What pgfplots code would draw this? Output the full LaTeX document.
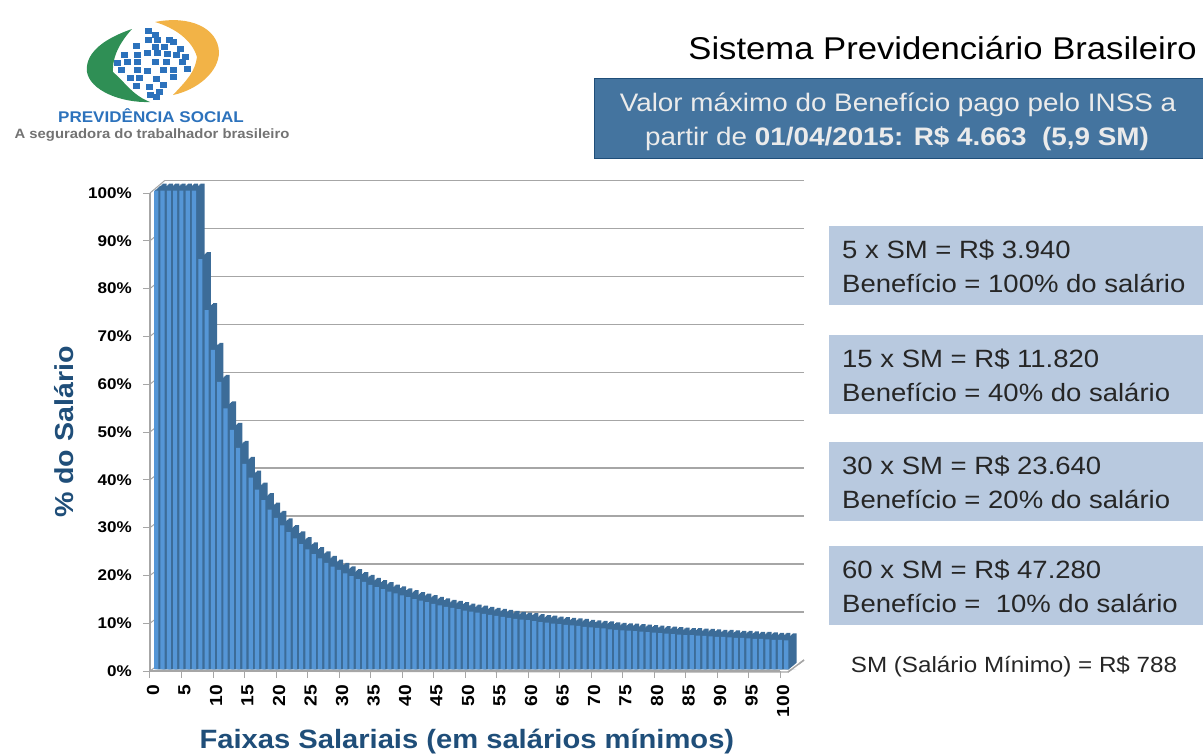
\documentclass[border=0pt]{standalone}
\usepackage{pgfplots}
\usepackage{pgfplotstable}
\usepackage{fontspec}
\pgfplotsset{compat=1.18}
\setmainfont[FakeStretch=1.1]{Liberation Sans}
\definecolor{barfront}{HTML}{5596D6}
\definecolor{barside}{HTML}{3C6C98}
\definecolor{gridgray}{HTML}{A6A6A6}
\definecolor{navy}{HTML}{1F4E79}
\definecolor{boxdark}{HTML}{44749F}
\definecolor{boxlight}{HTML}{B8C9DF}
\definecolor{logogreen}{HTML}{2F8F55}
\definecolor{logoorange}{HTML}{F2B347}
\definecolor{logoblue}{HTML}{2C72BC}
\pgfplotstableread{
c v
0 100
1 100
2 100
3 100
4 100
5 100
6 100
7 85.7
8 75.0
9 66.7
10 60.0
11 54.5
12 50.0
13 46.2
14 42.9
15 40.0
16 37.5
17 35.3
18 33.3
19 31.6
20 30.0
21 28.6
22 27.3
23 26.1
24 25.0
25 24.0
26 23.1
27 22.2
28 21.4
29 20.7
30 20.0
31 19.4
32 18.8
33 18.2
34 17.6
35 17.1
36 16.7
37 16.2
38 15.8
39 15.4
40 15.0
41 14.6
42 14.3
43 14.0
44 13.6
45 13.3
46 13.0
47 12.8
48 12.5
49 12.2
50 12.0
51 11.8
52 11.5
53 11.3
54 11.1
55 10.9
56 10.7
57 10.5
58 10.3
59 10.2
60 10.0
61 9.8
62 9.7
63 9.5
64 9.4
65 9.2
66 9.1
67 9.0
68 8.8
69 8.7
70 8.6
71 8.5
72 8.3
73 8.2
74 8.1
75 8.0
76 7.9
77 7.8
78 7.7
79 7.6
80 7.5
81 7.4
82 7.3
83 7.2
84 7.1
85 7.1
86 7.0
87 6.9
88 6.8
89 6.7
90 6.7
91 6.6
92 6.5
93 6.5
94 6.4
95 6.3
96 6.3
97 6.2
98 6.1
99 6.1
100 6.0
}\datatable
\newcommand{\px}[1]{\fontsize{#1}{#1}\selectfont}
\begin{document}
\begin{tikzpicture}[x=1pt,y=-1pt,every node/.style={inner sep=0pt}]
\path[use as bounding box] (0,0) rectangle (1203,753);
% logo
\fill[logogreen] (132,29) .. controls (100,40) and (85,55) .. (87,72) .. controls (90,90) and (120,103) .. (150,102) .. controls (132,95) and (125,82) .. (113,72) .. controls (112,55) and (122,40) .. (132,29) -- cycle;
\fill[logoorange] (155,22) .. controls (190,15) and (218,28) .. (219,52) .. controls (219,72) and (197,90) .. (173,95) .. controls (187,80) and (195,72) .. (197,57) .. controls (192,40) and (175,28) .. (155,22) -- cycle;
\foreach \a/\b in {145/28,152/32,145/37,154/37,166/37,133/43,152/44,161/44,170/39,177/46,121/52,134/52,144/50,154/50,164/51,173/52,182/54,114/60,124/59,134/59,152/59,163/59,179/59,184/66,118/67,134/67,144/68,160/67,170/67,127/75,136/75,153/76,170/74,133/83,146/84,160/82,147/92,156/89,153/94}
  \fill[logoblue] (\a,\b) rectangle ++(6.5,5.5);
\node[anchor=center,text=logoblue] at (151,116) {\px{15.5}\bfseries PREVIDÊNCIA SOCIAL};
\node[anchor=center,text=black!55] at (152,135) {\px{13.5}\bfseries A seguradora do trabalhador brasileiro};
% title block
\node[anchor=base east] at (1197,59) {\px{31.5}Sistema Previdenciário Brasileiro};
\fill[boxdark,draw=navy] (594,78) rectangle (1203,158);
\node[anchor=base,text=white!92!black] at (898,111) {\px{25.3}Valor máximo do Benefício pago pelo INSS a};
\node[anchor=base,text=white!92!black] at (897,145) {\px{25.3}partir de \textbf{01/04/2015: R\$ 4.663 \ (5,9 SM)}};
% right boxes
\foreach \y/\l/\m in {226/5 x SM = R\$ 3.940/Benefício = 100\% do salário,335/15 x SM = R\$ 11.820/Benefício = 40\% do salário,442/30 x SM = R\$ 23.640/Benefício = 20\% do salário,546/60 x SM = R\$ 47.280/Benefício = \ 10\% do salário}{
  \fill[boxlight] (829,\y) rectangle (1203,\y+79);
  \node[anchor=base west,text=black!85] at (842,\y+32) {\px{25}\l};
  \node[anchor=base west,text=black!85] at (842,\y+66) {\px{25}\m};
}
\node[anchor=base,text=black!85] at (1014,672) {\px{22}SM (Salário Mínimo) = R\$ 788};
% back wall with gridlines
\begin{axis}[scale only axis,at={(165pt,-660pt)},anchor=south west,width=639pt,height=479.7pt,
  xmin=0,xmax=100,ymin=0,ymax=100,xtick=\empty,ytick={10,20,...,100},yticklabels={},
  major tick length=0pt,axis line style={draw=none},ymajorgrids,
  grid style={gridgray,line width=1.3pt}]
\end{axis}
% floor and left wall
\fill[white] (150,671) -- (165,660) -- (804,660) -- (788,672) -- cycle;
\draw[gridgray,line width=1.4pt] (150,671) -- (788,672) -- (804,660);
\foreach \k in {0,...,10}
  \draw[gridgray,line width=1pt] (150,671-47.8*\k) -- (165,660-47.97*\k);
% front frame: ticks and labels
\begin{axis}[scale only axis,at={(150pt,-671pt)},anchor=south west,width=630pt,height=478pt,
  xmin=0,xmax=100,ymin=0,ymax=100,clip=false,
  axis x line=bottom,axis y line=left,axis line style={-,gridgray,line width=1.4pt},
  tick align=outside,major tick length=7pt,tick style={gridgray,line width=1pt},
  xtick={0,5,...,100},ytick={0,10,...,100},
  xticklabels={0,5,10,15,20,25,30,35,40,45,50,55,60,65,70,75,80,85,90,95,100},
  yticklabels={0\%,10\%,20\%,30\%,40\%,50\%,60\%,70\%,80\%,90\%,100\%},
  xticklabel style={rotate=90,anchor=east,xshift=-7pt,yshift=-3pt,font=\px{17.5}\bfseries},
  yticklabel style={anchor=east,xshift=-11pt,font=\px{15.5}\bfseries},
  xlabel={\textcolor{navy}{\px{26.5}\bfseries Faixas Salariais (em salários mínimos)}},
  x label style={at={(axis description cs:0.503,0)},anchor=base,yshift=-77pt},
  ylabel={\textcolor{navy}{\px{26}\bfseries \% do Salário}},
  y label style={at={(axis description cs:0,0.5)},rotate=0,anchor=base,yshift=76pt},
]
\end{axis}
% bars
\begin{axis}[scale only axis,at={(149.9pt,-669pt)},anchor=south west,width=642.6pt,height=478.4pt,
  xmin=-1,xmax=101,ymin=0,ymax=100,clip=false,axis lines=none]
\pgfplotsinvokeforeach{8,7,...,1}{
  \addplot[ybar,bar width=4.1pt,bar shift=#1*1.06pt,fill=barside,draw=none]
    table[x=c,y expr=\thisrow{v}+#1*0.183]{\datatable};
}
\addplot[ybar,bar width=4.1pt,bar shift=0pt,fill=barfront,draw=none]
    table[x=c,y=v]{\datatable};
\end{axis}
\fill[white] (788.6,669.6) -- (799,669.6) -- (799,661) -- cycle;
\draw[gridgray,line width=1.4pt] (788,672) -- (804,660);
\end{tikzpicture}
\end{document}
